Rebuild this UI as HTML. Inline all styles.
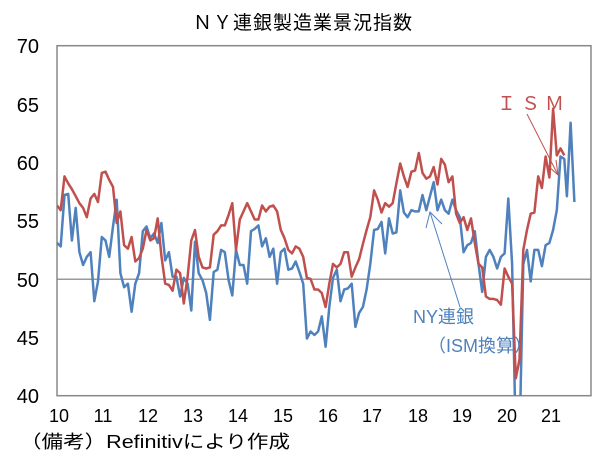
<!DOCTYPE html>
<html><head><meta charset="utf-8"><style>
body{margin:0;background:#fff;width:606px;height:466px;overflow:hidden}
svg{display:block}
text{font-family:"Liberation Sans","Noto Sans CJK JP",sans-serif}
</style></head><body>
<svg id="s" width="606" height="466" viewBox="0 0 606 466" xmlns="http://www.w3.org/2000/svg">
<text x="303" y="29" font-size="19" text-anchor="middle" fill="#000" letter-spacing="1">ＮＹ連銀製造業景況指数</text>
<g font-size="20" fill="#000" text-anchor="end">
<text x="39" y="53">70</text><text x="39" y="112">65</text><text x="39" y="170">60</text>
<text x="39" y="228">55</text><text x="39" y="287">50</text><text x="39" y="345">45</text><text x="39" y="403">40</text>
</g>
<g font-size="18" fill="#000" text-anchor="middle">
<text x="59" y="422">10</text><text x="103" y="422">11</text><text x="148" y="422">12</text><text x="193" y="422">13</text>
<text x="238" y="422">14</text><text x="283" y="422">15</text><text x="328" y="422">16</text><text x="372" y="422">17</text>
<text x="418" y="422">18</text><text x="462" y="422">19</text><text x="507" y="422">20</text><text x="551" y="422">21</text>
</g>
<text x="20" y="448" font-size="18" fill="#000" textLength="270" lengthAdjust="spacingAndGlyphs">（備考）Refinitivにより作成</text>
<defs><clipPath id="c"><rect x="57" y="45" width="534" height="351"/></clipPath></defs>
<line x1="57" y1="279.3" x2="591" y2="279.3" stroke="#999" stroke-width="1.5"/>
<rect x="57" y="45.7" width="534" height="350" fill="none" stroke="#888" stroke-width="1.5"/>
<g clip-path="url(#c)" fill="none" stroke-width="2.5" stroke-linejoin="round">
<polyline id="b" stroke="#4f81bd"/>
<polyline id="r" stroke="#c0504d"/>
</g>
<text x="497" y="110" font-size="19" fill="#c0504d" letter-spacing="5">ＩＳＭ</text>
<line x1="527" y1="114" x2="558" y2="175" stroke="#c0504d" stroke-width="1"/>
<polyline points="547,165 558,175 556,160" fill="none" stroke="#c0504d" stroke-width="1"/>
<text x="413" y="323" font-size="18" fill="#4f81bd">NY連銀</text>
<text x="428" y="352" font-size="18" fill="#4f81bd">（ISM換算）</text>
<line x1="460" y1="307" x2="430" y2="212" stroke="#4f81bd" stroke-width="1"/>
<polyline points="426,228 430,212 442,224" fill="none" stroke="#4f81bd" stroke-width="1"/>
</svg>
<script>
var R=[56.3,55.9,58.8,58.2,57.7,57.1,56.5,56.1,55.3,56.9,57.3,56.6,
59.1,59.2,58.5,57.9,54.8,55.8,52.9,52.6,53.6,51.5,51.8,52.6,
54.2,53.3,53.5,55.2,52.0,49.6,49.5,49.0,50.8,50.5,47.9,50.2,
53.3,54.2,51.9,51.0,50.9,51.0,53.8,54.1,54.6,54.6,55.5,56.5,
52.5,55.1,55.8,56.5,55.8,55.1,55.1,56.3,55.8,56.2,56.3,55.8,
54.2,53.5,52.5,52.2,52.8,52.6,51.9,50.1,50.0,49.1,49.1,48.8,
47.6,49.6,51.3,51.0,51.3,52.3,52.3,50.2,51.0,51.7,53.0,54.2,
55.3,57.6,56.8,55.7,56.5,56.2,56.5,58.2,59.9,58.8,57.9,59.2,
59.3,60.8,59.1,58.6,58.8,59.6,58.1,60.3,59.8,58.3,58.8,55.6,
54.8,55.3,54.2,55.2,53.1,51.3,51.0,48.5,48.3,48.3,48.2,47.8,
50.9,50.2,49.6,41.5,43.1,52.5,54.2,55.6,55.7,58.8,57.8,60.5,
58.7,64.6,60.6,61.2,60.6];
var B=[53.1,52.8,57.2,57.3,53.3,56.1,52.3,51.2,51.9,52.3,48.1,49.8,
53.6,53.3,51.9,54.5,56.8,50.5,49.3,49.6,47.2,49.6,50.5,54.1,
54.5,53.5,53.9,53.1,54.8,51.6,52.3,50.2,50.2,48.5,50.1,49.6,
47.3,53.2,50.5,49.9,48.8,46.5,50.6,50.8,52.5,52.3,49.9,48.6,
52.5,51.2,51.2,49.6,54.1,54.3,54.6,52.8,53.5,51.9,52.6,49.6,
52.3,52.6,50.8,50.9,51.5,50.6,49.6,44.9,45.5,45.2,45.5,46.8,
44.2,47.6,50.1,50.8,48.1,49.1,49.2,49.6,45.9,47.1,47.6,49.1,
51.3,54.2,54.3,54.9,52.2,55.2,53.9,54.0,57.6,55.7,55.3,55.9,
55.8,55.8,57.2,55.9,57.1,58.3,55.9,56.8,55.9,55.6,56.8,55.9,
55.3,52.3,52.9,53.1,54.1,51.3,48.9,51.9,52.5,51.9,50.9,51.9,
52.2,56.9,51.3,36,36,51.3,52.5,49.8,52.5,52.5,51.1,52.9,
53.1,54.2,55.9,60.5,60.3,57.1,63.4,56.6];
function pts(a,off){return a.map(function(v,i){var k=i;if(off&&i>=137)k=i-0.3;return (57+3.73*k).toFixed(1)+","+(45.7+(70-v)*11.667).toFixed(1)}).join(" ")}
document.getElementById("r").setAttribute("points",pts(R));
document.getElementById("b").setAttribute("points",pts(B,1));
</script>
</body></html>
